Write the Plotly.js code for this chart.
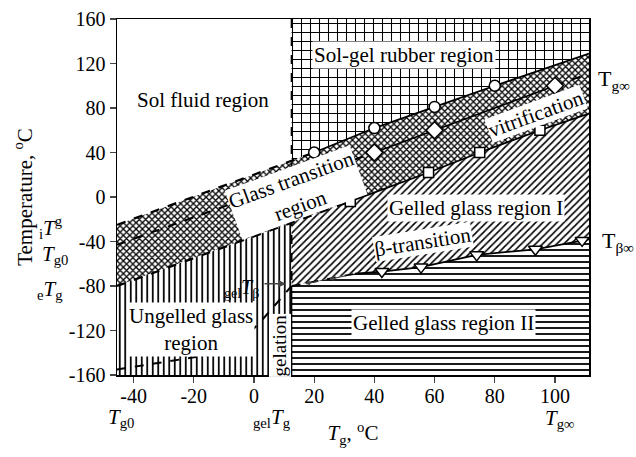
<!DOCTYPE html>
<html><head><meta charset="utf-8">
<script src="https://cdn.plot.ly/plotly-3.0.1.min.js"></script>
<style>body{margin:0;background:#fff}#chart{width:636px;height:457px}</style>
</head><body><div id="chart"></div>
<script>
// ---- data ----
const gelTg = 12.5;
const xRange = [-45.5, 111.3];
const yRange = [-160, 160];
const xTickVals = [-40, -20, 0, 20, 40, 60, 80, 100];
const xTickText = ['-40', '-20', '0', '20', '40', '60', '80', '100'];
const yTickVals = [-160, -120, -80, -40, 0, 40, 80, 120, 160];
const yTickText = ['-160', '-120', '-80', '-40', '0', '40', '80', '120', '160'];

// markers
const circleX = [20, 40, 60, 80];
const circleY = [40, 62, 81, 100];
const diamondX = [40, 60, 100];
const diamondY = [40, 60, 100];
const squareX = [32, 58, 75, 95];
const squareY = [-4, 22, 40, 60];
const triangleX = [42.5, 55.5, 74, 93.5, 109];
const triangleY = [-67, -63, -52, -47, -39];

// boundary line ends (dashed parts)
const iTgStartX = [-45.5, 12.5], iTgStartY = [-25, 32.5];
const iTgEndX = [111.3], iTgEndY = [129];
const tg0StartX = [-45.5], tg0StartY = [-43];
const tg0EndX = [111.3], tg0EndY = [111];
const eTgStartX = [-45.5, 12.5], eTgStartY = [-80, -23];
const eTgEndX = [111.3], eTgEndY = [75];
const betaStartX = [12.5, 33.5], betaStartY = [-80, -69];
const betaEndX = [111.3], betaEndY = [-38];
const gelBetaX = [-45.5, -8, -4, -1.3, 3.2, 8.6, 12.5];
const gelBetaY = [-155, -139, -135, -122, -109, -92.6, -80];

// ---- assembled boundaries ----
const upX = iTgStartX.concat(circleX, iTgEndX), upY = iTgStartY.concat(circleY, iTgEndY);
const loX = eTgStartX.concat(squareX, eTgEndX), loY = eTgStartY.concat(squareY, eTgEndY);
const beX = betaStartX.concat(triangleX, betaEndX), beY = betaStartY.concat(triangleY, betaEndY);

function pick(xs, ys, f){ const X=[],Y=[]; xs.forEach((x,i)=>{ if(f(x)){X.push(x);Y.push(ys[i]);} }); return [X,Y]; }
const rev = a => a.slice().reverse();

const FONT = 'Liberation Serif, Times New Roman, serif';
function region(x, y, shape, size, sol){
  return {x, y, type:'scatter', mode:'lines', fill:'toself', line:{width:0, color:'rgba(0,0,0,0)'},
    fillcolor:'white', fillpattern:{shape, size, solidity:sol, fgcolor:'black', bgcolor:'white'},
    hoverinfo:'skip', showlegend:false};
}
const traces = [];
// Sol-gel rubber region
{ const [ux,uy] = pick(upX, upY, x=>x>=gelTg);
  traces.push(region([gelTg, xRange[1]].concat(rev(ux)), [yRange[1], yRange[1]].concat(rev(uy)), '+', 9, 0.22)); }
// glass transition band
traces.push(region(upX.concat(rev(loX)), upY.concat(rev(loY)), 'x', 4.5, 0.5));
// ungelled glass
{ const [lx,ly] = pick(loX, loY, x=>x<=gelTg);
  traces.push(region([xRange[0], gelTg].concat(rev(lx)), [yRange[0], yRange[0]].concat(rev(ly)), '|', 5.5, 0.32)); }
// gelled glass I
{ const [lx,ly] = pick(loX, loY, x=>x>=gelTg);
  traces.push(region(lx.concat(rev(beX)), ly.concat(rev(beY)), '/', 5, 0.32)); }
// gelled glass II
traces.push(region([gelTg, xRange[1]].concat(rev(beX)), [yRange[0], yRange[0]].concat(rev(beY)), '-', 6, 0.3));

function line(x, y, dash, w){ return {x, y, type:'scatter', mode:'lines', line:{color:'black', width:w||1.8, dash}, hoverinfo:'skip', showlegend:false}; }
// iTg
traces.push(line(iTgStartX.concat([circleX[0]]), iTgStartY.concat([circleY[0]]), 'dash', 2.2));
traces.push(line(circleX.concat(iTgEndX), circleY.concat(iTgEndY), 'solid'));
// Tg0 / diamonds
traces.push(line(tg0StartX.concat([diamondX[0]]), tg0StartY.concat([diamondY[0]]), 'dash', 2));
traces.push(line(diamondX, diamondY, 'solid'));
traces.push(line([diamondX[diamondX.length-1]].concat(tg0EndX), [diamondY[diamondY.length-1]].concat(tg0EndY), 'dash', 2));
// eTg / squares
traces.push(line(eTgStartX.concat([squareX[0]]), eTgStartY.concat([squareY[0]]), 'dash', 2.2));
traces.push(line(squareX.concat(eTgEndX), squareY.concat(eTgEndY), 'solid'));
// beta
traces.push(line(betaStartX, betaStartY, 'dash', 1.8));
traces.push(line([betaStartX[1]].concat(triangleX, betaEndX), [betaStartY[1]].concat(triangleY, betaEndY), 'solid'));
// gel T beta curve
traces.push(line(gelBetaX, gelBetaY, 'dash', 2));
// gelation vertical
traces.push(line([gelTg, gelTg], [yRange[1], betaStartY[0]], 'dash', 1.8));
traces.push(line([gelTg, gelTg], [betaStartY[0], yRange[0]], 'solid', 1.5));

function marks(x, y, symbol, size){ return {x, y, type:'scatter', mode:'markers', marker:{symbol, size, color:'white', line:{color:'black', width:1.5}}, hoverinfo:'skip', showlegend:false}; }
traces.push(marks(circleX, circleY, 'circle', 11));
traces.push(marks(diamondX, diamondY, 'diamond', 13));
traces.push(marks(squareX, squareY, 'square', 10));
traces.push(marks(triangleX, triangleY, 'triangle-down', 12));

const f = s => ({family:FONT, size:s, color:'black'});
function lab(text, x, y, opts){ return Object.assign({text, x, y, xref:'x', yref:'y', showarrow:false, font:f(21)}, opts||{}); }
const annotations = [
  lab('Sol fluid region', -16.9, 87),
  lab('Sol-gel rubber region', 49.8, 127.6, {bgcolor:'white', borderpad:1}),
  lab('Glass transition<br>region', 14, 4, {bgcolor:'white', textangle:-20, borderpad:0}),
  lab('vitrification', 93.6, 75, {bgcolor:'white', textangle:-20, borderpad:0}),
  lab('Gelled glass region I', 73.8, -10, {bgcolor:'white', borderpad:1}),
  lab('β-transition', 56, -40, {bgcolor:'white', textangle:-9, borderpad:0}),
  lab('Gelled glass region II', 62.8, -113, {bgcolor:'white', borderpad:1}),
  lab('Ungelled glass<br>region', -21, -119, {bgcolor:'white', borderpad:1}),
  lab('gelation', 8.8, -133, {bgcolor:'white', textangle:-90, font:f(19), borderpad:0}),
  lab('<sub>gel</sub><i>T</i><sub>β</sub>', -4, -82, {font:f(20)}),
  // arrow to gel T beta
  {x:10.6, y:-78, ax:3, ay:-78, xref:'x', yref:'y', axref:'x', ayref:'y', showarrow:true, arrowhead:2, arrowsize:1, arrowwidth:1.5, text:''},
  {x:17, y:-78, ax:22, ay:-75.5, xref:'x', yref:'y', axref:'x', ayref:'y', showarrow:true, arrowhead:2, arrowsize:0.8, arrowwidth:1.2, text:''},
  {x:25, y:-74, ax:31, ay:-70.5, xref:'x', yref:'y', axref:'x', ayref:'y', showarrow:true, arrowhead:2, arrowsize:0.8, arrowwidth:1.2, text:''},
  // right labels
  {text:'T<sub>g∞</sub>', x:1.014, y:105, xref:'paper', yref:'y', xanchor:'left', showarrow:false, font:f(22)},
  {text:'T<sub>β∞</sub>', x:1.023, y:-40, xref:'paper', yref:'y', xanchor:'left', showarrow:false, font:f(22)},
  // left labels
  {text:'<sub>i</sub><i>T</i><sup>g</sup>', x:-0.11, y:-27, xref:'paper', yref:'y', xanchor:'right', showarrow:false, font:f(21)},
  {text:'<i>T</i><sub>g0</sub>', x:-0.1, y:-52, xref:'paper', yref:'y', xanchor:'right', showarrow:false, font:f(21)},
  {text:'<sub>e</sub><i>T</i><sub>g</sub>', x:-0.11, y:-84, xref:'paper', yref:'y', xanchor:'right', showarrow:false, font:f(21)},
  // bottom labels
  {text:'<i>T</i><sub>g0</sub>', x:-44.2, y:-0.08, xref:'x', yref:'paper', yanchor:'top', showarrow:false, font:f(21)},
  {text:'<sub>gel</sub><i>T</i><sub>g</sub>', x:6, y:-0.08, xref:'x', yref:'paper', yanchor:'top', showarrow:false, font:f(21)},
  {text:'<i>T</i><sub>g∞</sub>', x:101.7, y:-0.082, xref:'x', yref:'paper', yanchor:'top', showarrow:false, font:f(21)}
];

const layout = {
  width:636, height:457, margin:{l:117, r:47, t:19, b:82},
  paper_bgcolor:'white', plot_bgcolor:'white', showlegend:false,
  font:f(20),
  xaxis:{range:xRange, tickvals:xTickVals, ticktext:xTickText, ticks:'outside', ticklen:6, tickwidth:1.2,
    ticklabelstandoff:-4,
    showline:true, mirror:true, linewidth:1.5, linecolor:'black', showgrid:false, zeroline:false,
    tickfont:f(20), title:{text:'<i>T</i><sub>g</sub>, <sup>o</sup>C', font:f(21), standoff:20}},
  yaxis:{range:yRange, tickvals:yTickVals, ticktext:yTickText, ticks:'outside', ticklen:6, tickwidth:1.2,
    showline:true, mirror:true, linewidth:1.5, linecolor:'black', showgrid:false, zeroline:false,
    tickfont:f(20), title:{text:'Temperature, <sup>o</sup>C', font:f(21), standoff:30}},
  annotations
};
Plotly.newPlot('chart', traces, layout, {staticPlot:true});
</script></body></html>
